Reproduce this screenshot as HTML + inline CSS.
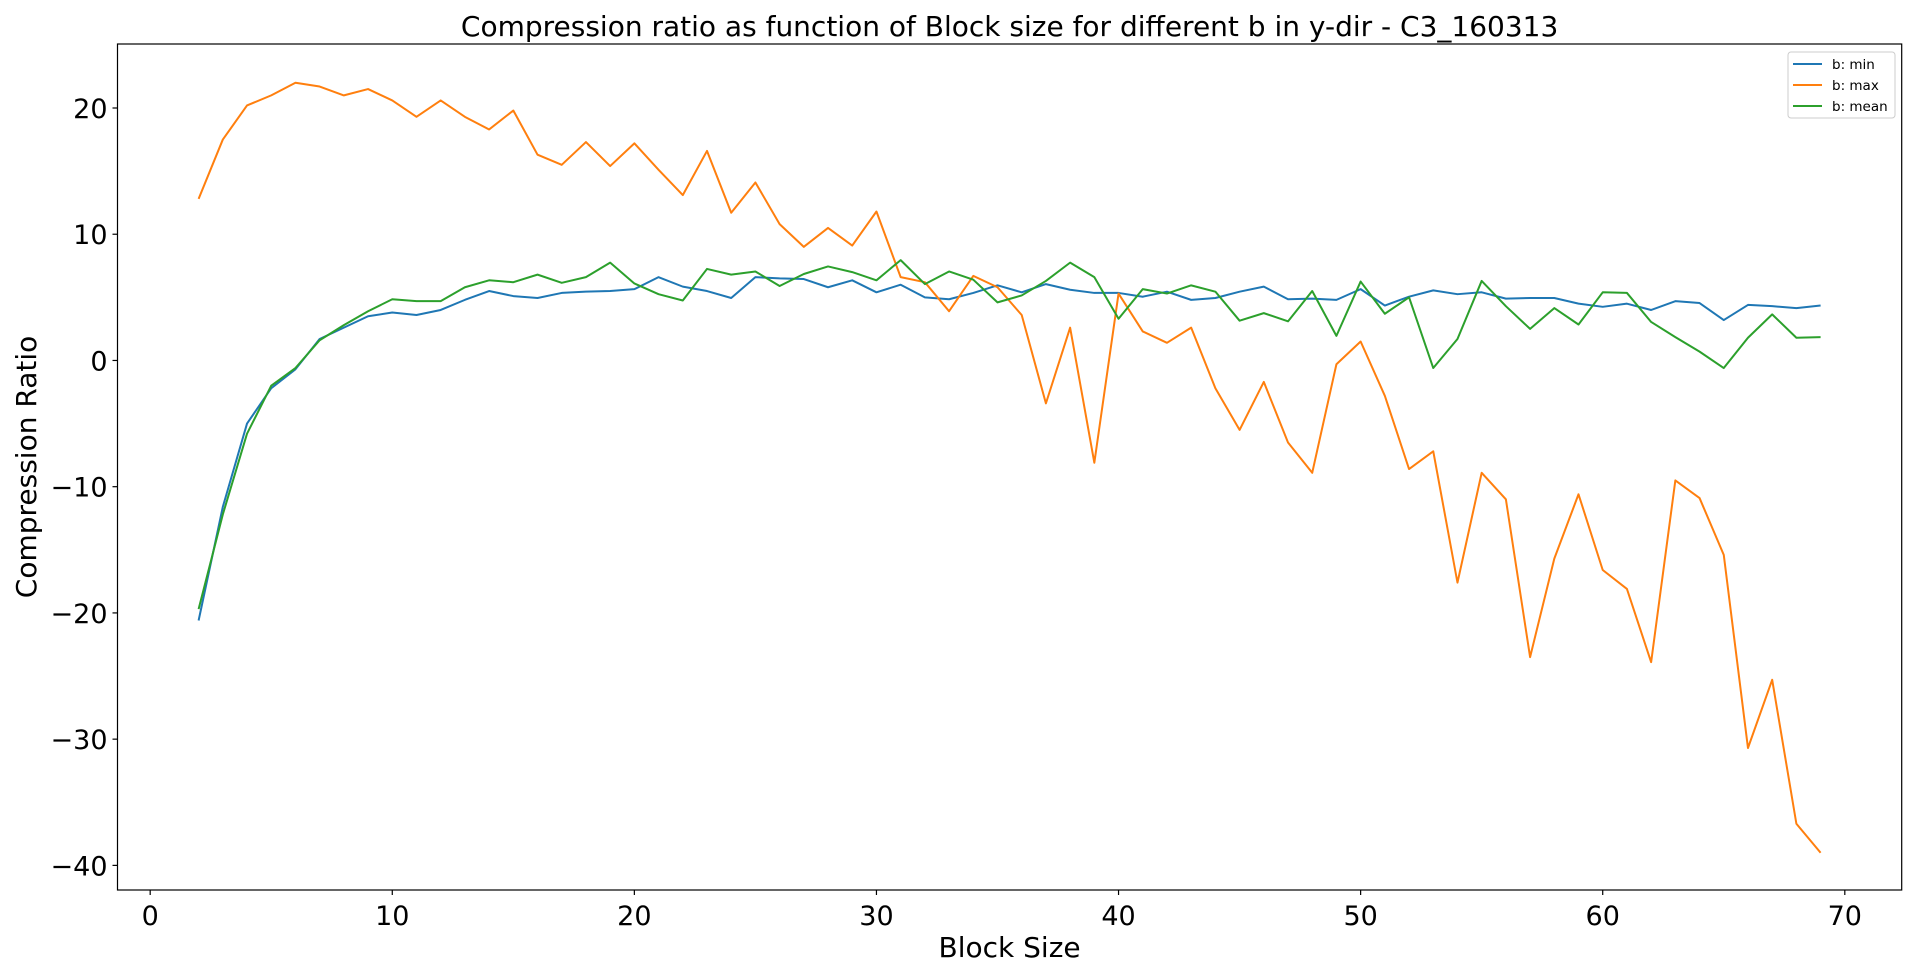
<!DOCTYPE html>
<html><head><meta charset="utf-8"><style>
html,body{margin:0;padding:0;background:#fff;}
svg{display:block;font-family:"DejaVu Sans","Liberation Sans",sans-serif;}
</style></head><body>
<svg id="chart" width="1920" height="977"></svg>
<script>
const xs=[2,3,4,5,6,7,8,9,10,11,12,13,14,15,16,17,18,19,20,21,22,23,24,25,26,27,28,29,30,31,32,33,34,35,36,37,38,39,40,41,42,43,44,45,46,47,48,49,50,51,52,53,54,55,56,57,58,59,60,61,62,63,64,65,66,67,68,69];
const minVals=[-20.6,-11.6,-5.0,-2.2,-0.7,1.7,2.6,3.5,3.8,3.6,4.0,4.8,5.5,5.1,4.95,5.35,5.45,5.5,5.65,6.6,5.85,5.5,4.95,6.6,6.5,6.45,5.8,6.35,5.4,6.0,5.0,4.85,5.35,5.95,5.4,6.05,5.6,5.35,5.35,5.05,5.45,4.8,4.95,5.45,5.85,4.85,4.9,4.8,5.65,4.35,5.05,5.55,5.25,5.4,4.9,4.95,4.95,4.5,4.25,4.5,4.0,4.7,4.55,3.2,4.4,4.3,4.15,4.35];
const maxVals=[12.8,17.5,20.2,21.0,22.0,21.7,21.0,21.5,20.6,19.3,20.6,19.3,18.3,19.8,16.3,15.5,17.3,15.4,17.2,15.1,13.1,16.6,11.7,14.1,10.8,9.0,10.5,9.1,11.8,6.6,6.2,3.9,6.7,5.8,3.6,-3.4,2.6,-8.1,5.3,2.3,1.4,2.6,-2.2,-5.5,-1.7,-6.5,-8.9,-0.3,1.5,-2.8,-8.6,-7.2,-17.6,-8.9,-11.0,-23.5,-15.7,-10.6,-16.6,-18.1,-23.9,-9.5,-10.9,-15.4,-30.7,-25.3,-36.7,-39.0];
const meanVals=[-19.7,-12.2,-5.8,-2.0,-0.6,1.6,2.8,3.9,4.85,4.7,4.7,5.8,6.35,6.2,6.8,6.15,6.6,7.75,6.1,5.25,4.75,7.25,6.8,7.05,5.9,6.85,7.45,7.0,6.35,7.95,6.05,7.05,6.4,4.6,5.15,6.3,7.75,6.6,3.3,5.65,5.3,5.95,5.45,3.15,3.75,3.1,5.5,1.95,6.25,3.7,5.0,-0.6,1.7,6.3,4.3,2.5,4.15,2.85,5.4,5.35,3.05,1.85,0.7,-0.6,1.8,3.65,1.8,1.85];
const xTicks=[0,10,20,30,40,50,60,70];
const yTicks=[20,10,0,-10,-20,-30,-40];

const NS="http://www.w3.org/2000/svg";
const svg=document.getElementById('chart');
const L=117.5,R=1901.7,T=44,B=890;
const xMin=-1.35,xMax=72.35,yMin=-41.95,yMax=25.07;
const X=v=>L+(v-xMin)/(xMax-xMin)*(R-L);
const Y=v=>B-(v-yMin)/(yMax-yMin)*(B-T);
function mk(tag,attrs,parent){const e=document.createElementNS(NS,tag);for(const k in attrs)e.setAttribute(k,attrs[k]);(parent||svg).appendChild(e);return e;}

const series=[[minVals,'#1f77b4','line-min'],[maxVals,'#ff7f0e','line-max'],[meanVals,'#2ca02c','line-mean']];
series.forEach(s=>{
  const p=mk('polyline',{points:xs.map((x,i)=>X(x).toFixed(2)+','+Y(s[0][i]).toFixed(2)).join(' '),fill:'none',stroke:s[1],'stroke-width':2,'stroke-linejoin':'round'});
  
  
});

const frame=mk('rect',{x:L,y:T,width:R-L,height:B-T,fill:'none',stroke:'#000','stroke-width':1.2});



xTicks.forEach(t=>{
  mk('line',{x1:X(t),x2:X(t),y1:B,y2:B+5,stroke:'#000','stroke-width':1.2});
  const tx=mk('text',{x:X(t),y:B+35,'text-anchor':'middle','font-size':27});
  tx.textContent=t;
  
  
});
yTicks.forEach(t=>{
  mk('line',{x1:L-5,x2:L,y1:Y(t),y2:Y(t),stroke:'#000','stroke-width':1.2});
  const tx=mk('text',{x:L-10,y:Y(t)+10,'text-anchor':'end','font-size':27});
  tx.textContent=t<0?'\u2212'+Math.abs(t):t;
  
  
});

const title=mk('text',{x:(L+R)/2,y:36,'text-anchor':'middle','font-size':28});
title.textContent='Compression ratio as function of Block size for different b in y-dir - C3_160313';


const xl=mk('text',{x:(L+R)/2,y:957,'text-anchor':'middle','font-size':28});
xl.textContent='Block Size';


const yl=mk('text',{x:0,y:0,'text-anchor':'middle','font-size':28,transform:'translate(36,'+((T+B)/2)+') rotate(-90)'});
yl.textContent='Compression Ratio';



const lg=mk('g',{});


mk('rect',{x:1788,y:52,width:107,height:66,rx:3,fill:'#fff','fill-opacity':0.8,stroke:'#ccc','stroke-width':1},lg);
const names=['b: min','b: max','b: mean'];
series.forEach((s,i)=>{
  const yy=64+i*21;
  mk('line',{x1:1793,x2:1822,y1:yy,y2:yy,stroke:s[1],'stroke-width':2},lg);
  const t=mk('text',{x:1832,y:yy+5,'font-size':13.5},lg);
  t.textContent=names[i];
  
  
});
</script>
</body></html>
